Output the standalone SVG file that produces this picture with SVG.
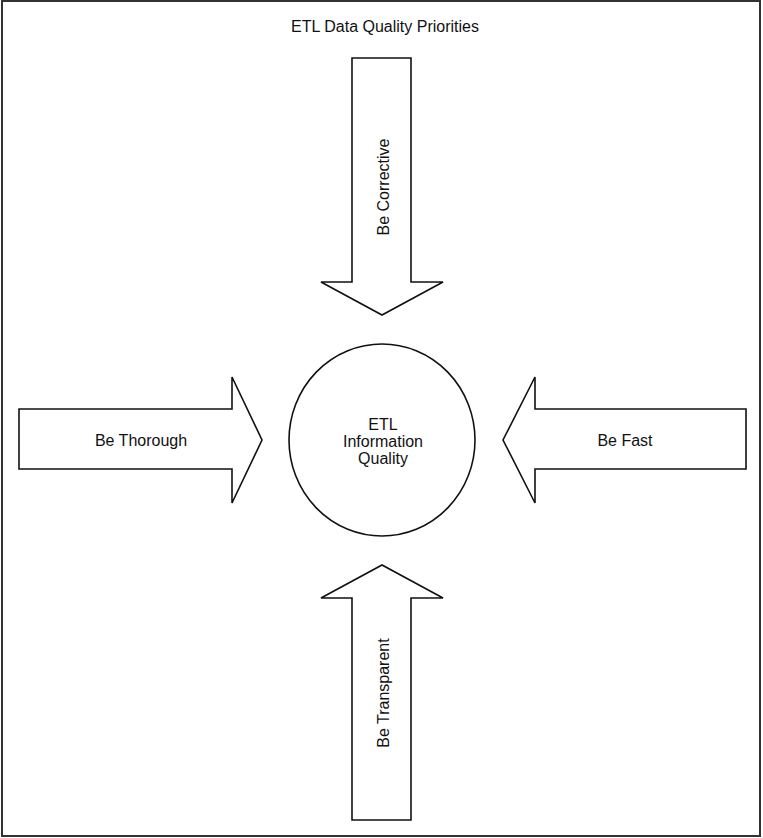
<svg xmlns="http://www.w3.org/2000/svg" width="763" height="838" viewBox="0 0 763 838">
  <style>
    .frame { fill: #ffffff; stroke: #333333; stroke-width: 2; }
    .shape { fill: #ffffff; stroke: #111111; stroke-width: 1.6; stroke-linejoin: miter; }
    .label { font-family: "Liberation Sans", Arial, sans-serif; font-size: 16px; fill: #111111; text-anchor: middle; dominant-baseline: central; }
  </style>
  <rect class="frame" x="2" y="1" width="758" height="835"/>
  <text class="label" x="385" y="26">ETL Data Quality Priorities</text>

  <g id="connectors">
    <g id="arrow-corrective">
      <polygon class="shape" points="352,58 411,58 411,282 443,282 382,315 321,282 352,282"/>
      <text class="label" transform="translate(383,187) rotate(-90)">Be Corrective</text>
    </g>
    <g id="arrow-thorough">
      <polygon class="shape" points="19,409 232,409 232,377 262,440 232,503 232,469 19,469"/>
      <text class="label" x="141" y="440">Be Thorough</text>
    </g>
    <g id="arrow-fast">
      <polygon class="shape" points="746,409 535,409 535,377 503,440 535,503 535,469 746,469"/>
      <text class="label" x="625" y="440">Be Fast</text>
    </g>
    <g id="arrow-transparent">
      <polygon class="shape" points="352,820 411,820 411,598 443,598 382,565 321,598 352,598"/>
      <text class="label" transform="translate(383,693) rotate(-90)">Be Transparent</text>
    </g>
  </g>

  <g id="node-quality">
    <ellipse class="shape" cx="382" cy="440" rx="93" ry="96"/>
    <text class="label" x="383" y="424">ETL</text>
    <text class="label" x="383" y="441">Information</text>
    <text class="label" x="383" y="458">Quality</text>
  </g>
</svg>
